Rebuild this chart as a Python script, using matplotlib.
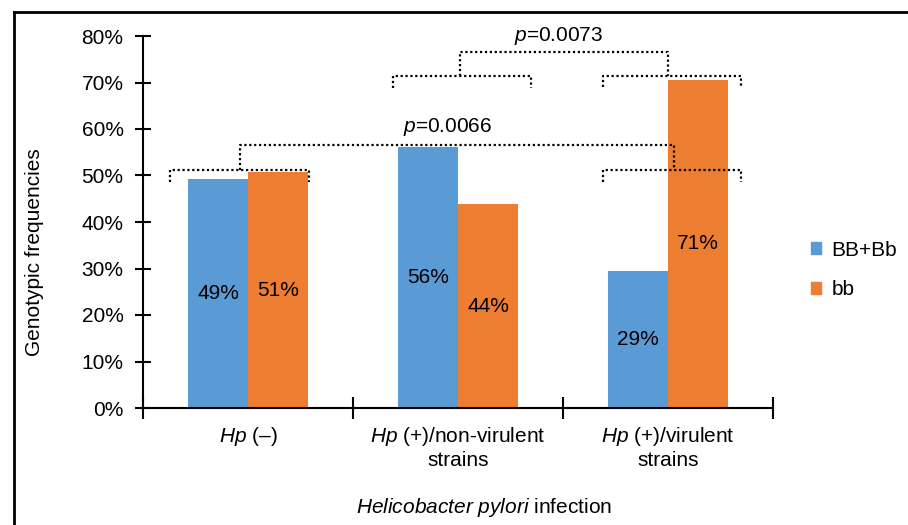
import matplotlib
matplotlib.use("Agg")
import matplotlib.pyplot as plt
from matplotlib.lines import Line2D
from matplotlib.patches import Patch
import numpy as np

plt.rcParams['font.family'] = ['Liberation Sans', 'DejaVu Sans']
plt.rcParams['mathtext.fontset'] = 'custom'
plt.rcParams['mathtext.it'] = 'Liberation Sans:italic'
plt.rcParams['mathtext.rm'] = 'Liberation Sans'

# data
categories = [r"$\mathit{Hp}$ (–)",
              r"$\mathit{Hp}$ (+)/non-virulent" + "\nstrains",
              r"$\mathit{Hp}$ (+)/virulent" + "\nstrains"]
bb_Bb = [49.3, 56.2, 29.4]
bb = [50.7, 43.8, 70.6]
series_names = ["BB+Bb", "bb"]
labels_bb_Bb = ["49%", "56%", "29%"]
labels_bb = ["51%", "44%", "71%"]
p_labels = ["0.0066", "0.0073"]

blue = "#5B9BD5"
orange = "#ED7D31"
fs = 15

fig = plt.figure(figsize=(9.08, 5.25), dpi=100)
ax = fig.add_axes([143 / 908, 1 - 408 / 525, 630 / 908, 372 / 525])

x = np.arange(len(categories))
w = 60 / 210
ax.bar(x - w / 2, bb_Bb, width=w, color=blue, label=series_names[0])
ax.bar(x + w / 2, bb, width=w, color=orange, label=series_names[1])

for i in range(len(categories)):
    ax.text(x[i] - w / 2, bb_Bb[i] / 2, labels_bb_Bb[i], ha='center', va='center', fontsize=fs)
    ax.text(x[i] + w / 2, bb[i] / 2, labels_bb[i], ha='center', va='center', fontsize=fs)

ax.set_xlim(-0.5, 2.5)
ax.set_ylim(0, 80)
ax.set_yticks(np.arange(0, 81, 10))
ax.set_yticklabels([f"{v}%" for v in range(0, 81, 10)], fontsize=fs)
ax.tick_params(axis='y', direction='inout', length=12, width=1.5, pad=8)

ax.set_xticks([-0.5, 0.5, 1.5, 2.5])
ax.set_xticklabels([])
ax.tick_params(axis='x', which='major', direction='inout', length=16, width=1.5)
ax.set_xticks(x, minor=True)
ax.set_xticklabels(categories, minor=True, fontsize=fs, linespacing=1.2)
ax.tick_params(axis='x', which='minor', length=0, pad=12)

for s in ['top', 'right']:
    ax.spines[s].set_visible(False)
for s in ['left', 'bottom']:
    ax.spines[s].set_linewidth(1.5)

ax.set_ylabel("Genotypic frequencies", fontsize=fs)
ax.yaxis.set_label_coords(-0.157, 0.42)
ax.set_xlabel(r"$\mathit{Helicobacter\ pylori}$ infection", fontsize=fs)
ax.xaxis.set_label_coords(0.542, -0.236)

# significance brackets
dot = dict(color='black', lw=1.6, linestyle=(0, (1, 1.2)), clip_on=False)


def bracket(c, y, drop, half=0.33):
    ax.plot([c - half, c - half, c + half, c + half], [y - drop, y, y, y - drop], **dot)


lo_y, hi_y = 51.2, 71.4
bracket(0.0 - 0.04, lo_y, 2.7)
bracket(2.0 + 0.02, lo_y, 2.7)
bracket(1.0 + 0.02, hi_y, 2.5)
bracket(2.0 + 0.02, hi_y, 2.3)

c1 = [-0.04, 2.03]
ax.plot([c1[0], c1[0], c1[1], c1[1]], [lo_y, 56.6, 56.6, lo_y], **dot)
ax.text(0.95, 60.4, r"$\mathit{p}$=" + p_labels[0], ha='center', va='center', fontsize=fs)

c2 = [1.01, 2.0]
ax.plot([c2[0], c2[0], c2[1], c2[1]], [hi_y, 76.6, 76.6, hi_y], **dot)
ax.text(1.48, 80.0, r"$\mathit{p}$=" + p_labels[1], ha='center', va='center', fontsize=fs,
        clip_on=False)

# legend
handles = [Patch(color=blue), Patch(color=orange)]
fig.legend(handles, series_names, loc='center left', bbox_to_anchor=(792 / 908, 1 - 270 / 525),
           frameon=False, fontsize=fs, handlelength=0.5, handleheight=0.5,
           handletextpad=0.5, labelspacing=1.0)

# outer frame (top and left)
fig.add_artist(Line2D([14 / 908, 1], [1 - 12 / 525, 1 - 12 / 525], color='black', lw=2))
fig.add_artist(Line2D([14 / 908, 14 / 908], [0, 1 - 12 / 525], color='black', lw=2))

fig.savefig("out.png", dpi=100)
